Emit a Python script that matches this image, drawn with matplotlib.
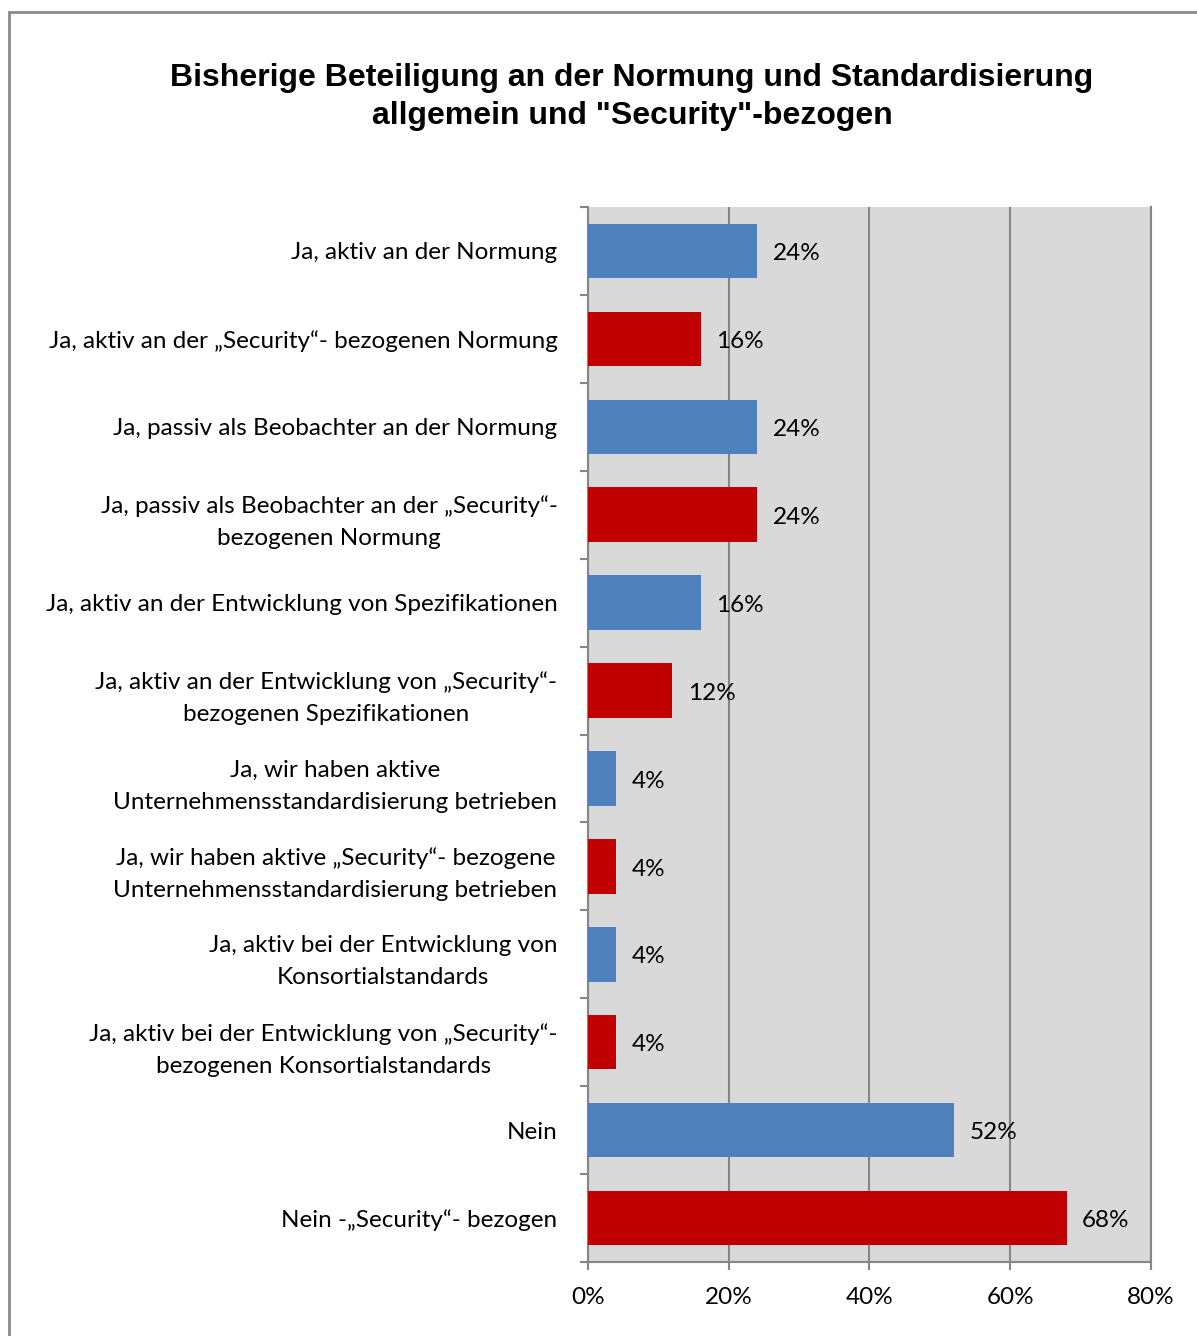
import matplotlib.pyplot as plt
import matplotlib.patches as patches
import numpy as np

categories = [
    "Ja, aktiv an der Normung",
    "Ja, aktiv an der \u201eSecurity\u201c- bezogenen Normung",
    "Ja, passiv als Beobachter an der Normung",
    "Ja, passiv als Beobachter an der \u201eSecurity\u201c-\nbezogenen Normung",
    "Ja, aktiv an der Entwicklung von Spezifikationen",
    "Ja, aktiv an der Entwicklung von \u201eSecurity\u201c-\nbezogenen Spezifikationen",
    "Ja, wir haben aktive\nUnternehmensstandardisierung betrieben",
    "Ja, wir haben aktive \u201eSecurity\u201c- bezogene\nUnternehmensstandardisierung betrieben",
    "Ja, aktiv bei der Entwicklung von\nKonsortialstandards",
    "Ja, aktiv bei der Entwicklung von \u201eSecurity\u201c-\nbezogenen Konsortialstandards",
    "Nein",
    "Nein -\u201eSecurity\u201c- bezogen",
]
values = [24, 16, 24, 24, 16, 12, 4, 4, 4, 4, 52, 68]
series_colors = ["#4F81BD", "#C00000"]
xticks = [0, 20, 40, 60, 80]

plt.rcParams['font.family'] = ['Lato', 'DejaVu Sans']
fs = 17.5

fig = plt.figure(figsize=(11.97, 13.36), dpi=100)
ax = fig.add_axes([588 / 1197, 1 - 1262 / 1336, (1151 - 588) / 1197, (1262 - 207) / 1336])
ax.set_facecolor("#D9D9D9")

y = np.arange(len(categories))
colors = [series_colors[i % 2] for i in range(len(categories))]
ax.barh(y, values, height=0.62, color=colors, zorder=3)

for yi, v in zip(y, values):
    ax.text(v + 2.2, yi + 0.03, f"{v}%", va="center", ha="left", fontsize=fs, zorder=4)

ax.set_xlim(0, 80)
ax.set_ylim(len(categories) - 0.5, -0.5)
ax.set_xticks(xticks)
ax.set_xticklabels([f"{t}%" for t in xticks], fontsize=fs)
ax.set_yticks(y)
ax.set_yticklabels(categories, fontsize=fs, multialignment="center", linespacing=1.65)
ax.set_yticks(np.arange(-0.5, len(categories)), minor=True)

ax.tick_params(axis="y", which="major", length=0, pad=22)
ax.tick_params(axis="y", which="minor", length=6, width=1.5, color="#868686")
ax.tick_params(axis="x", length=6, width=1.5, color="#868686", pad=12)

ax.grid(axis="x", color="#868686", linewidth=1.5, zorder=1)
for s in ["left", "bottom", "right"]:
    ax.spines[s].set_color("#868686")
    ax.spines[s].set_linewidth(1.5)
ax.spines["top"].set_visible(False)

fig.text(0.528, 1 - 97 / 1336,
         "Bisherige Beteiligung an der Normung und Standardisierung\nallgemein und \"Security\"-bezogen",
         ha="center", va="center", fontsize=23, fontweight="bold",
         family="Liberation Sans", linespacing=1.35)

fig.patches.append(patches.Rectangle((9 / 1197, -0.05), 1.2, 1 - 12 / 1336 + 0.05,
                                     transform=fig.transFigure, fill=False,
                                     edgecolor="#8C8C8C", linewidth=2))

fig.savefig("out.png", dpi=100)
